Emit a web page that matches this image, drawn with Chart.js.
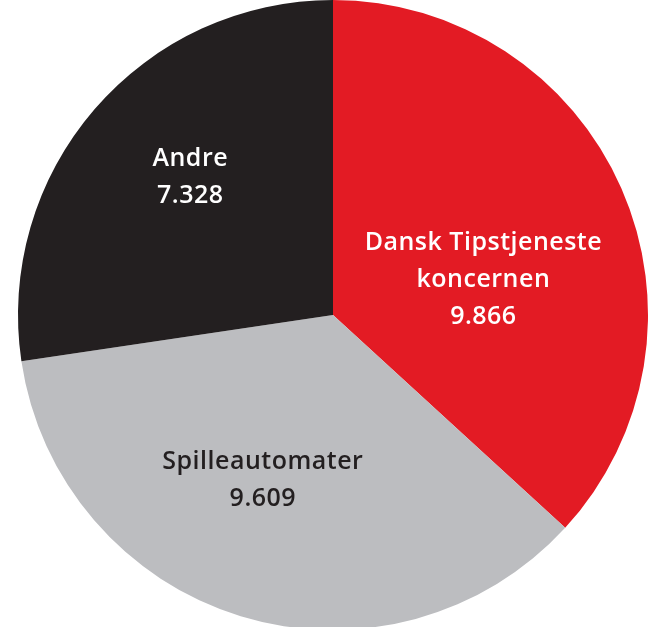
<!DOCTYPE html>
<html>
<head>
<meta charset="utf-8">
<script src="https://cdn.jsdelivr.net/npm/chart.js@4/dist/chart.umd.min.js"></script>
<style>
	html, body { margin: 0; padding: 0; background: #fff; overflow: hidden; }
	#wrap { position: absolute; left: 0; top: 0; width: 666px; height: 630px; }
</style>
</head>
<body>
<div id="wrap"><canvas id="pie"></canvas></div>
<script>
// order: clockwise from 12 o'clock
var labels = [["Dansk Tipstjeneste", "koncernen"], ["Spilleautomater"], ["Andre"]];
var valueText = ["9.866", "9.609", "7.328"];
var values = [9866, 9609, 7328];
var colors = ["#E31B24", "#BCBDC0", "#231F20"];
var textColors = ["#ffffff", "#231F20", "#ffffff"];

// where each label sits: angle from top (deg, clockwise) and share of radius
var labelPos = [
	{ a: 77, r: 0.49 },
	{ a: 203, r: 0.57 },
	{ a: 314, r: 0.63 }
];

var sliceLabels = {
	id: 'sliceLabels',
	afterDatasetsDraw: function(chart) {
		var ctx = chart.ctx;
		var meta = chart.getDatasetMeta(0);
		ctx.save();
		ctx.font = "600 25px 'Open Sans'";
		ctx.letterSpacing = "0.5px";
		ctx.textAlign = "center";
		ctx.textBaseline = "middle";
		meta.data.forEach(function(arc, i) {
			var p = labelPos[i];
			var ang = (p.a - 90) * Math.PI / 180;
			var cx = arc.x + Math.cos(ang) * arc.outerRadius * p.r;
			var cy = arc.y + Math.sin(ang) * arc.outerRadius * p.r;
			var lines = labels[i].concat([valueText[i]]);
			var lh = 37;
			var y0 = cy - (lines.length - 1) * lh / 2;
			ctx.fillStyle = textColors[i];
			lines.forEach(function(t, j) {
				ctx.fillText(t, cx, y0 + j * lh);
			});
		});
		ctx.restore();
	}
};

var ctx = document.getElementById("pie").getContext("2d");
var chart = new Chart(ctx, {
	type: 'pie',
	data: {
		labels: labels.map(l => l.join(" ")),
		datasets: [{
			data: values,
			backgroundColor: colors,
			borderWidth: 0
		}]
	},
	options: {
		responsive: true,
		maintainAspectRatio: false,
		animation: false,
		layout: { padding: 0 },
		plugins: {
			legend: { display: false },
			tooltip: { enabled: false }
		}
	},
	plugins: [sliceLabels]
});
</script>
</body>
</html>
